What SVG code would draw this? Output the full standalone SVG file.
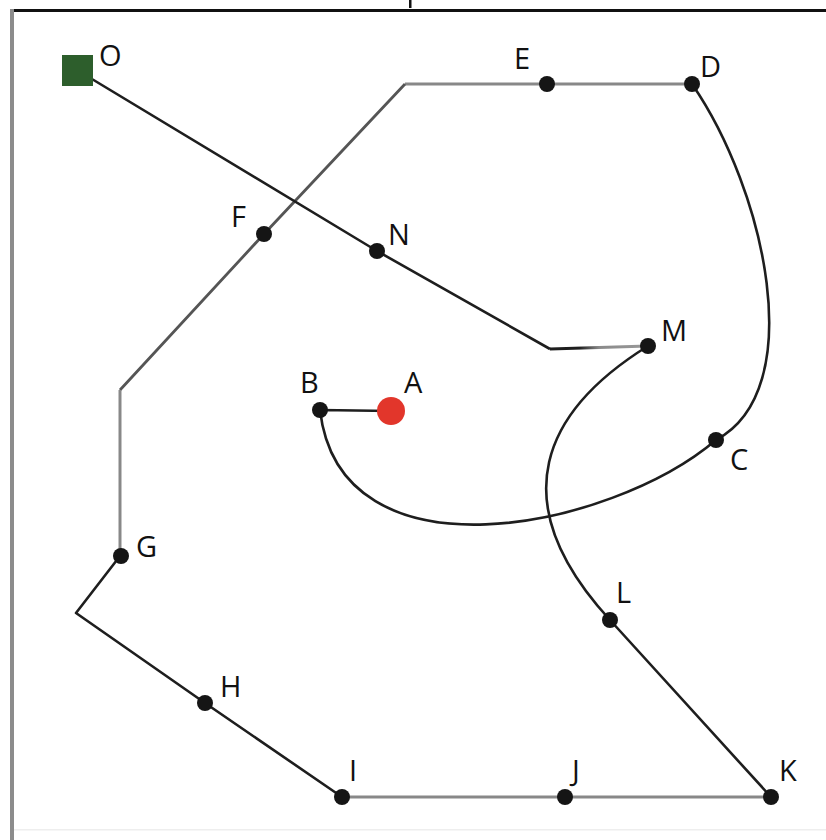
<svg xmlns="http://www.w3.org/2000/svg" width="826" height="840" viewBox="0 0 826 840">
  <style>
    .lbl { font-family: "Open Sans", "Liberation Sans", sans-serif; font-size: 29px; fill: #111; }
    .dk { fill: none; stroke: #1e1e1e; stroke-width: 2.6; stroke-linejoin: round; }
    .md { fill: none; stroke: #555; stroke-width: 2.8; stroke-linejoin: round; }
    .lt { fill: none; stroke: #888; stroke-width: 3; stroke-linejoin: round; }
    .dot { fill: #151515; }
  </style>
  <defs>
    <linearGradient id="toM" x1="550" y1="0" x2="648" y2="0" gradientUnits="userSpaceOnUse">
      <stop offset="0.3" stop-color="#1e1e1e"/>
      <stop offset="0.5" stop-color="#8a8a8a"/>
      <stop offset="1" stop-color="#9a9a9a"/>
    </linearGradient>
  </defs>

  <rect width="826" height="840" fill="#ffffff"/>

  <!-- frame -->
  <g id="frame">
    <rect x="13" y="9" width="813" height="3" fill="#111"/>
    <rect x="10" y="9" width="4" height="831" fill="#8c8c8c"/>
    <rect x="14" y="829" width="812" height="1.5" fill="#eeeeee"/>
    <rect x="409" y="0" width="2.5" height="8" fill="#111"/>
  </g>

  <!-- connectors -->
  <g id="connectors">
    <!-- outer route: D - E - F - G - H - I - J - K -->
    <path class="lt" d="M692,84 L405,84"/>
    <path class="md" d="M405,84 L264,234 L120,390"/>
    <path class="lt" d="M120,390 L120,556"/>
    <path class="dk" d="M120,556 L76,613 L205,703 L342,797"/>
    <path class="lt" d="M342,797 L771,797"/>
    <!-- K - L - M -->
    <path class="dk" d="M771,797 L610,620 C500,500 545,410 648,346"/>
    <!-- M - N - O -->
    <path stroke="url(#toM)" stroke-width="3" fill="none" d="M648,346 L550,349"/>
    <path class="dk" d="M550,349 L377,251 L77,70"/>
    <!-- D - C - B - A -->
    <path class="dk" d="M692,84 C765,190 810,390 716,440 C610,530 340,585 320,410 L391,411"/>
  </g>

  <!-- nodes -->
  <g id="node-O">
    <rect x="62" y="55" width="31" height="31" fill="#2d5e2c"/>
    <text class="lbl" x="99" y="66">O</text>
  </g>
  <g id="node-E">
    <circle class="dot" cx="547" cy="84" r="8"/>
    <text class="lbl" x="514" y="69">E</text>
  </g>
  <g id="node-D">
    <circle class="dot" cx="692" cy="84" r="8"/>
    <text class="lbl" x="700" y="77">D</text>
  </g>
  <g id="node-F">
    <circle class="dot" cx="264" cy="234" r="8"/>
    <text class="lbl" x="231" y="227">F</text>
  </g>
  <g id="node-N">
    <circle class="dot" cx="377" cy="251" r="8"/>
    <text class="lbl" x="388" y="245">N</text>
  </g>
  <g id="node-M">
    <circle class="dot" cx="648" cy="346" r="8"/>
    <text class="lbl" x="661" y="341">M</text>
  </g>
  <g id="node-B">
    <circle class="dot" cx="320" cy="410" r="8"/>
    <text class="lbl" x="300" y="393">B</text>
  </g>
  <g id="node-A">
    <circle cx="391" cy="411" r="14" fill="#e2362b"/>
    <text class="lbl" x="404" y="393">A</text>
  </g>
  <g id="node-C">
    <circle class="dot" cx="716" cy="440" r="8"/>
    <text class="lbl" x="730" y="470">C</text>
  </g>
  <g id="node-G">
    <circle class="dot" cx="121" cy="556" r="8"/>
    <text class="lbl" x="136" y="557">G</text>
  </g>
  <g id="node-L">
    <circle class="dot" cx="610" cy="620" r="8"/>
    <text class="lbl" x="616" y="603">L</text>
  </g>
  <g id="node-H">
    <circle class="dot" cx="205" cy="703" r="8"/>
    <text class="lbl" x="220" y="697">H</text>
  </g>
  <g id="node-I">
    <circle class="dot" cx="342" cy="797" r="8"/>
    <text class="lbl" x="349" y="781">I</text>
  </g>
  <g id="node-J">
    <circle class="dot" cx="565" cy="797" r="8"/>
    <text class="lbl" x="572" y="781">J</text>
  </g>
  <g id="node-K">
    <circle class="dot" cx="771" cy="797" r="8"/>
    <text class="lbl" x="779" y="781">K</text>
  </g>
</svg>
